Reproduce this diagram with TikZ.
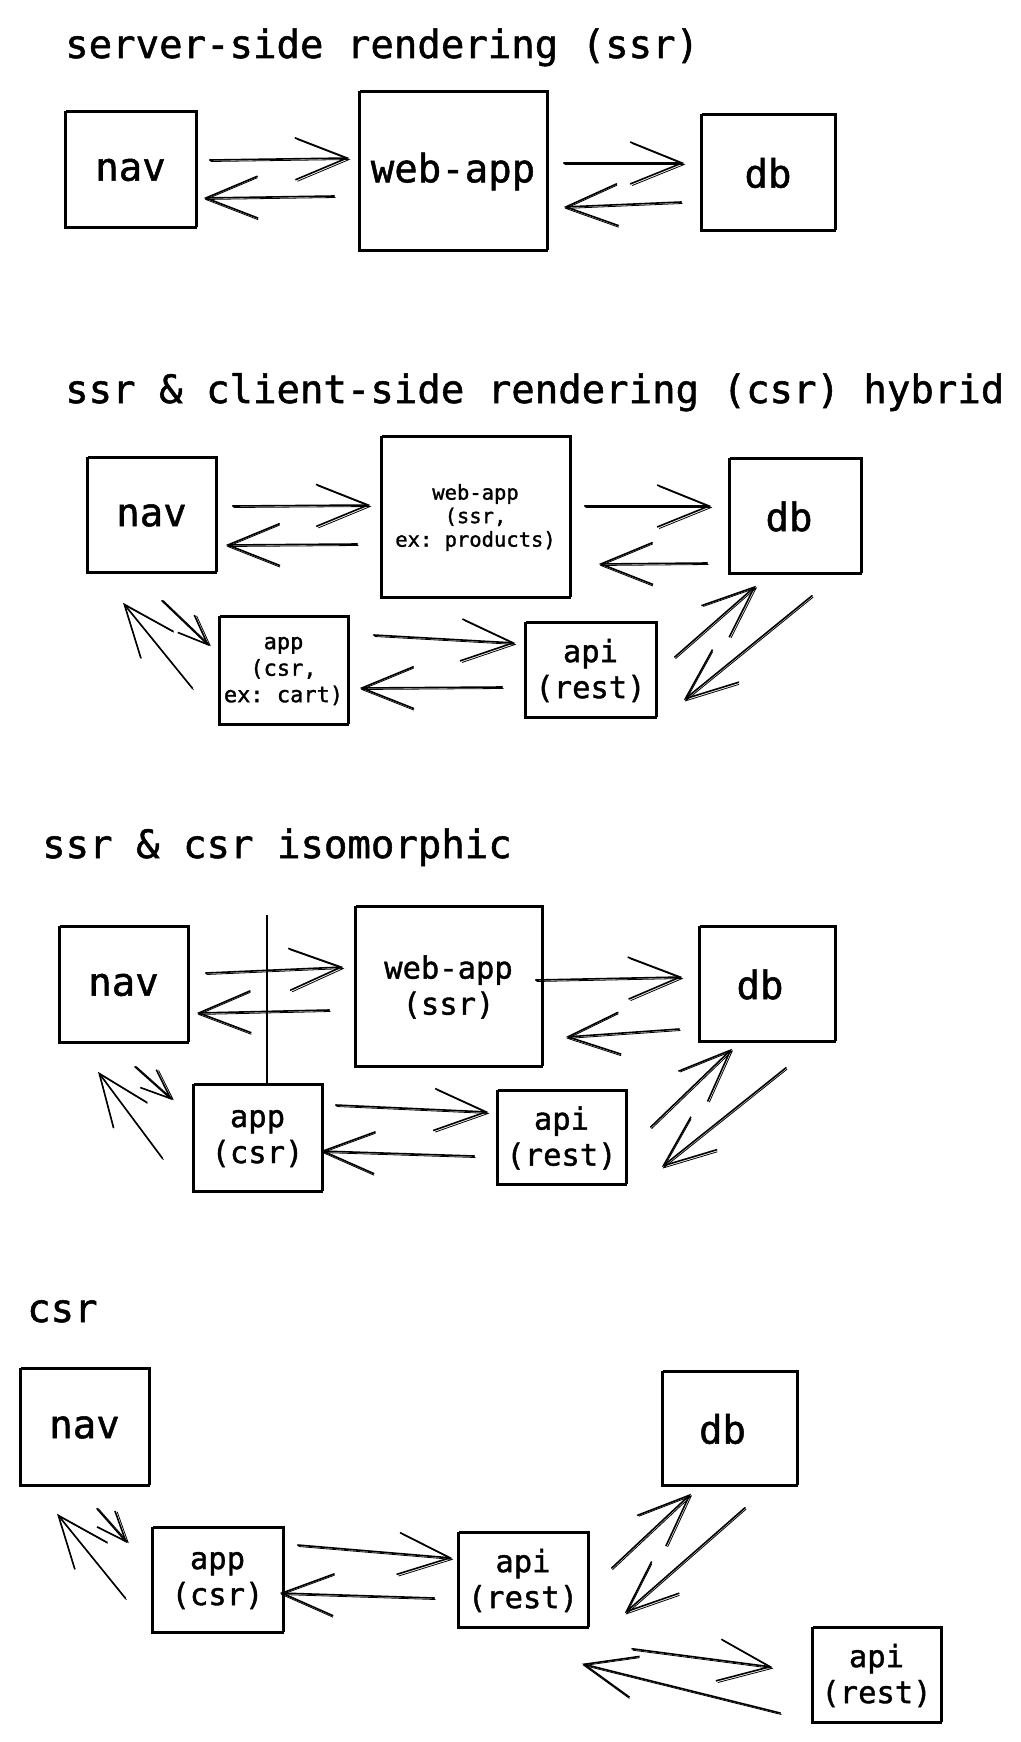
\documentclass[tikz,border=0pt]{standalone}
\usepackage{fontspec}
\setmonofont{DejaVu Sans Mono}[FakeBold=1.3]
\usetikzlibrary{arrows.meta}
\newcommand\fbig{\ttfamily\fontsize{39}{44}\selectfont}
\newcommand\fmid{\ttfamily\fontsize{30.5}{36}\selectfont}
\newcommand\fapp{\ttfamily\fontsize{22}{26.5}\selectfont}
\newcommand\fweb{\ttfamily\fontsize{20.5}{23.5}\selectfont}
\begin{document}
\begin{tikzpicture}[x=1pt,y=-1pt,
 box/.style={draw, line width=1.5pt, inner sep=0pt, align=center,
   postaction={draw, line width=0.8pt, transform canvas={xshift=1.4pt,yshift=1.4pt}}},
 arr/.style={line width=1.6pt, line cap=round, line join=round,
   -{Straight Barb[length=52pt,width=42pt]},
   postaction={draw, line width=0.8pt, transform canvas={xshift=1pt,yshift=-1.5pt}}},
 sarr/.style={line width=1.6pt, line cap=round, line join=round,
   -{Straight Barb[length=30pt,width=24pt]},
   postaction={draw, line width=0.8pt, transform canvas={xshift=1.5pt,yshift=0pt}}},
 title/.style={anchor=base west, inner sep=0pt, font=\fbig}]
\useasboundingbox[fill=white] (0,0) rectangle (1020,1742);

% ---------- section 1 ----------
\node[title] (t1) at (65,58) {server-side rendering (ssr)};
\node[box, minimum width=131pt, minimum height=116pt, font=\fbig] (nav1) at (130.5,170) {nav};
\node[box, minimum width=188pt, minimum height=159pt, font=\fbig] (web1) at (453,171.5) {web-app};
\node[box, minimum width=134pt, minimum height=116pt, font=\fbig] (db1) at (768,173) {db};
\draw[arr] ([shift={(13,-10)}]nav1.east) -- ([shift={(-9,-13.5)}]web1.west);
\draw[arr] ([shift={(-24,24.5)}]web1.west) -- ([shift={(7,28)}]nav1.east);
\draw[arr] ([shift={(16,-8.5)}]web1.east) -- ([shift={(-16,-10)}]db1.west);
\draw[arr] ([shift={(-19,29)}]db1.west) -- ([shift={(16,35.5)}]web1.east);

% ---------- section 2 ----------
\node[title] (t2) at (65,403) {ssr \& client-side rendering (csr) hybrid};
\node[box, minimum width=129pt, minimum height=115pt, font=\fbig] (nav2) at (151.5,515.5) {nav};
\node[box, minimum width=189pt, minimum height=161pt, font=\fweb] (web2) at (475.5,517.5) {web-app\\(ssr,\\ex: products)};
\node[box, minimum width=132pt, minimum height=115pt, font=\fbig] (db2) at (795,516.5) {\hspace*{-12pt}\raisebox{-8pt}{db}};
\node[box, minimum width=129pt, minimum height=108pt, font=\fapp] (app2) at (283.5,671) {app\\(csr,\\ex: cart)};
\node[box, minimum width=131pt, minimum height=95pt, font=\fmid] (api2) at (590.5,670.5) {api\\(rest)};
\draw[arr] ([shift={(16,-9.5)}]nav2.east) -- ([shift={(-10,-12.5)}]web2.west);
\draw[arr] ([shift={(-23,26.5)}]web2.west) -- ([shift={(9,29.5)}]nav2.east);
\draw[arr] ([shift={(14,-11.5)}]web2.east) -- ([shift={(-17,-10.5)}]db2.west);
\draw[arr] ([shift={(-21,46.5)}]db2.west) -- ([shift={(28,46.5)}]web2.east);
\draw[arr] ([shift={(-26,17)}]app2.west) -- ([shift={(-28.5,29)}]nav2.south);
\draw[sarr] ([shift={(10.5,27)}]nav2.south) -- ([shift={(-9,-25)}]app2.west);
\draw[arr] ([shift={(25,-36)}]app2.east) -- ([shift={(-9,-27.5)}]api2.west);
\draw[arr] ([shift={(-22,16.5)}]api2.west) -- ([shift={(11,17)}]app2.east);
\draw[arr] ([shift={(18,-13.5)}]api2.east) -- ([shift={(-39,11)}]db2.south);
\draw[arr] ([shift={(17,21)}]db2.south) -- ([shift={(27,29.5)}]api2.east);

% ---------- section 3 ----------
\node[title] (t3) at (42,858) {ssr \& csr isomorphic};
\node[box, minimum width=129pt, minimum height=116pt, font=\fbig] (nav3) at (123.5,985) {nav};
\node[box, minimum width=187pt, minimum height=160pt, font=\fmid] (web3) at (448.5,987) {web-app\\(ssr)};
\node[box, minimum width=136pt, minimum height=115pt, font=\fbig] (db3) at (767,984.5) {\hspace*{-14pt}\raisebox{-8pt}{db}};
\node[box, minimum width=129pt, minimum height=107pt, font=\fmid] (app3) at (257.5,1138.5) {app\\(csr)};
\node[box, minimum width=129pt, minimum height=94pt, font=\fmid] (api3) at (561.5,1138) {api\\(rest)};
\coordinate (vtop) at (267,915);
\draw[line width=1.5pt] (vtop) -- (vtop |- app3.north);
\draw[arr] ([shift={(17,-12)}]nav3.east) -- ([shift={(-11,-20)}]web3.west);
\draw[arr] ([shift={(-25,23)}]web3.west) -- ([shift={(8,28)}]nav3.east);
\draw[arr] ([shift={(-7,-7)}]web3.east) -- ([shift={(-16,-7.5)}]db3.west);
\draw[arr] ([shift={(-19,44.5)}]db3.west) -- ([shift={(23,50)}]web3.east);
\draw[arr] ([shift={(-30,19.5)}]app3.west) -- ([shift={(-25.5,28)}]nav3.south);
\draw[sarr] ([shift={(11.5,23)}]nav3.south) -- ([shift={(-20,-38.5)}]app3.west);
\draw[arr] ([shift={(13,-33.5)}]app3.east) -- ([shift={(-8,-26)}]api3.west);
\draw[arr] ([shift={(-22,18)}]api3.west) -- ([shift={(-2,12.5)}]app3.east);
\draw[arr] ([shift={(24,-11)}]api3.east) -- ([shift={(-35,6)}]db3.south);
\draw[arr] ([shift={(19,25)}]db3.south) -- ([shift={(35,29)}]api3.east);

% ---------- section 4 ----------
\node[title] (t4) at (27,1322) {csr};
\node[box, minimum width=129pt, minimum height=117pt, font=\fbig] (nav4) at (84.5,1427.5) {nav};
\node[box, minimum width=135pt, minimum height=114pt, font=\fbig] (db4) at (729.5,1429) {\hspace*{-14pt}\raisebox{-8pt}{db}};
\node[box, minimum width=131pt, minimum height=105pt, font=\fmid] (app4) at (217.5,1580.5) {app\\(csr)};
\node[box, minimum width=130pt, minimum height=95pt, font=\fmid] (api4) at (523,1580.5) {api\\(rest)};
\node[box, minimum width=129pt, minimum height=95pt, font=\fmid] (apiB) at (876.5,1675.5) {api\\(rest)};
\draw[arr] ([shift={(-26,17.5)}]app4.west) -- ([shift={(-27.5,27)}]nav4.south);
\draw[sarr] ([shift={(12.5,22)}]nav4.south) -- ([shift={(-24,-37.5)}]app4.west);
\draw[arr] ([shift={(14,-35.5)}]app4.east) -- ([shift={(-5,-22.5)}]api4.west);
\draw[arr] ([shift={(-23,17.5)}]api4.west) -- ([shift={(-4,12.5)}]app4.east);
\draw[arr] ([shift={(23,-12.5)}]api4.east) -- ([shift={(-38.5,7)}]db4.south);
\draw[arr] ([shift={(15.5,21)}]db4.south) -- ([shift={(36,32.5)}]api4.east);
\draw[arr] ([shift={(109,20)}]api4.south) -- ([shift={(-39,-8.5)}]apiB.west);
\draw[arr] ([shift={(-31,37.5)}]apiB.west) -- ([shift={(59,35)}]api4.south);
\end{tikzpicture}
\end{document}
